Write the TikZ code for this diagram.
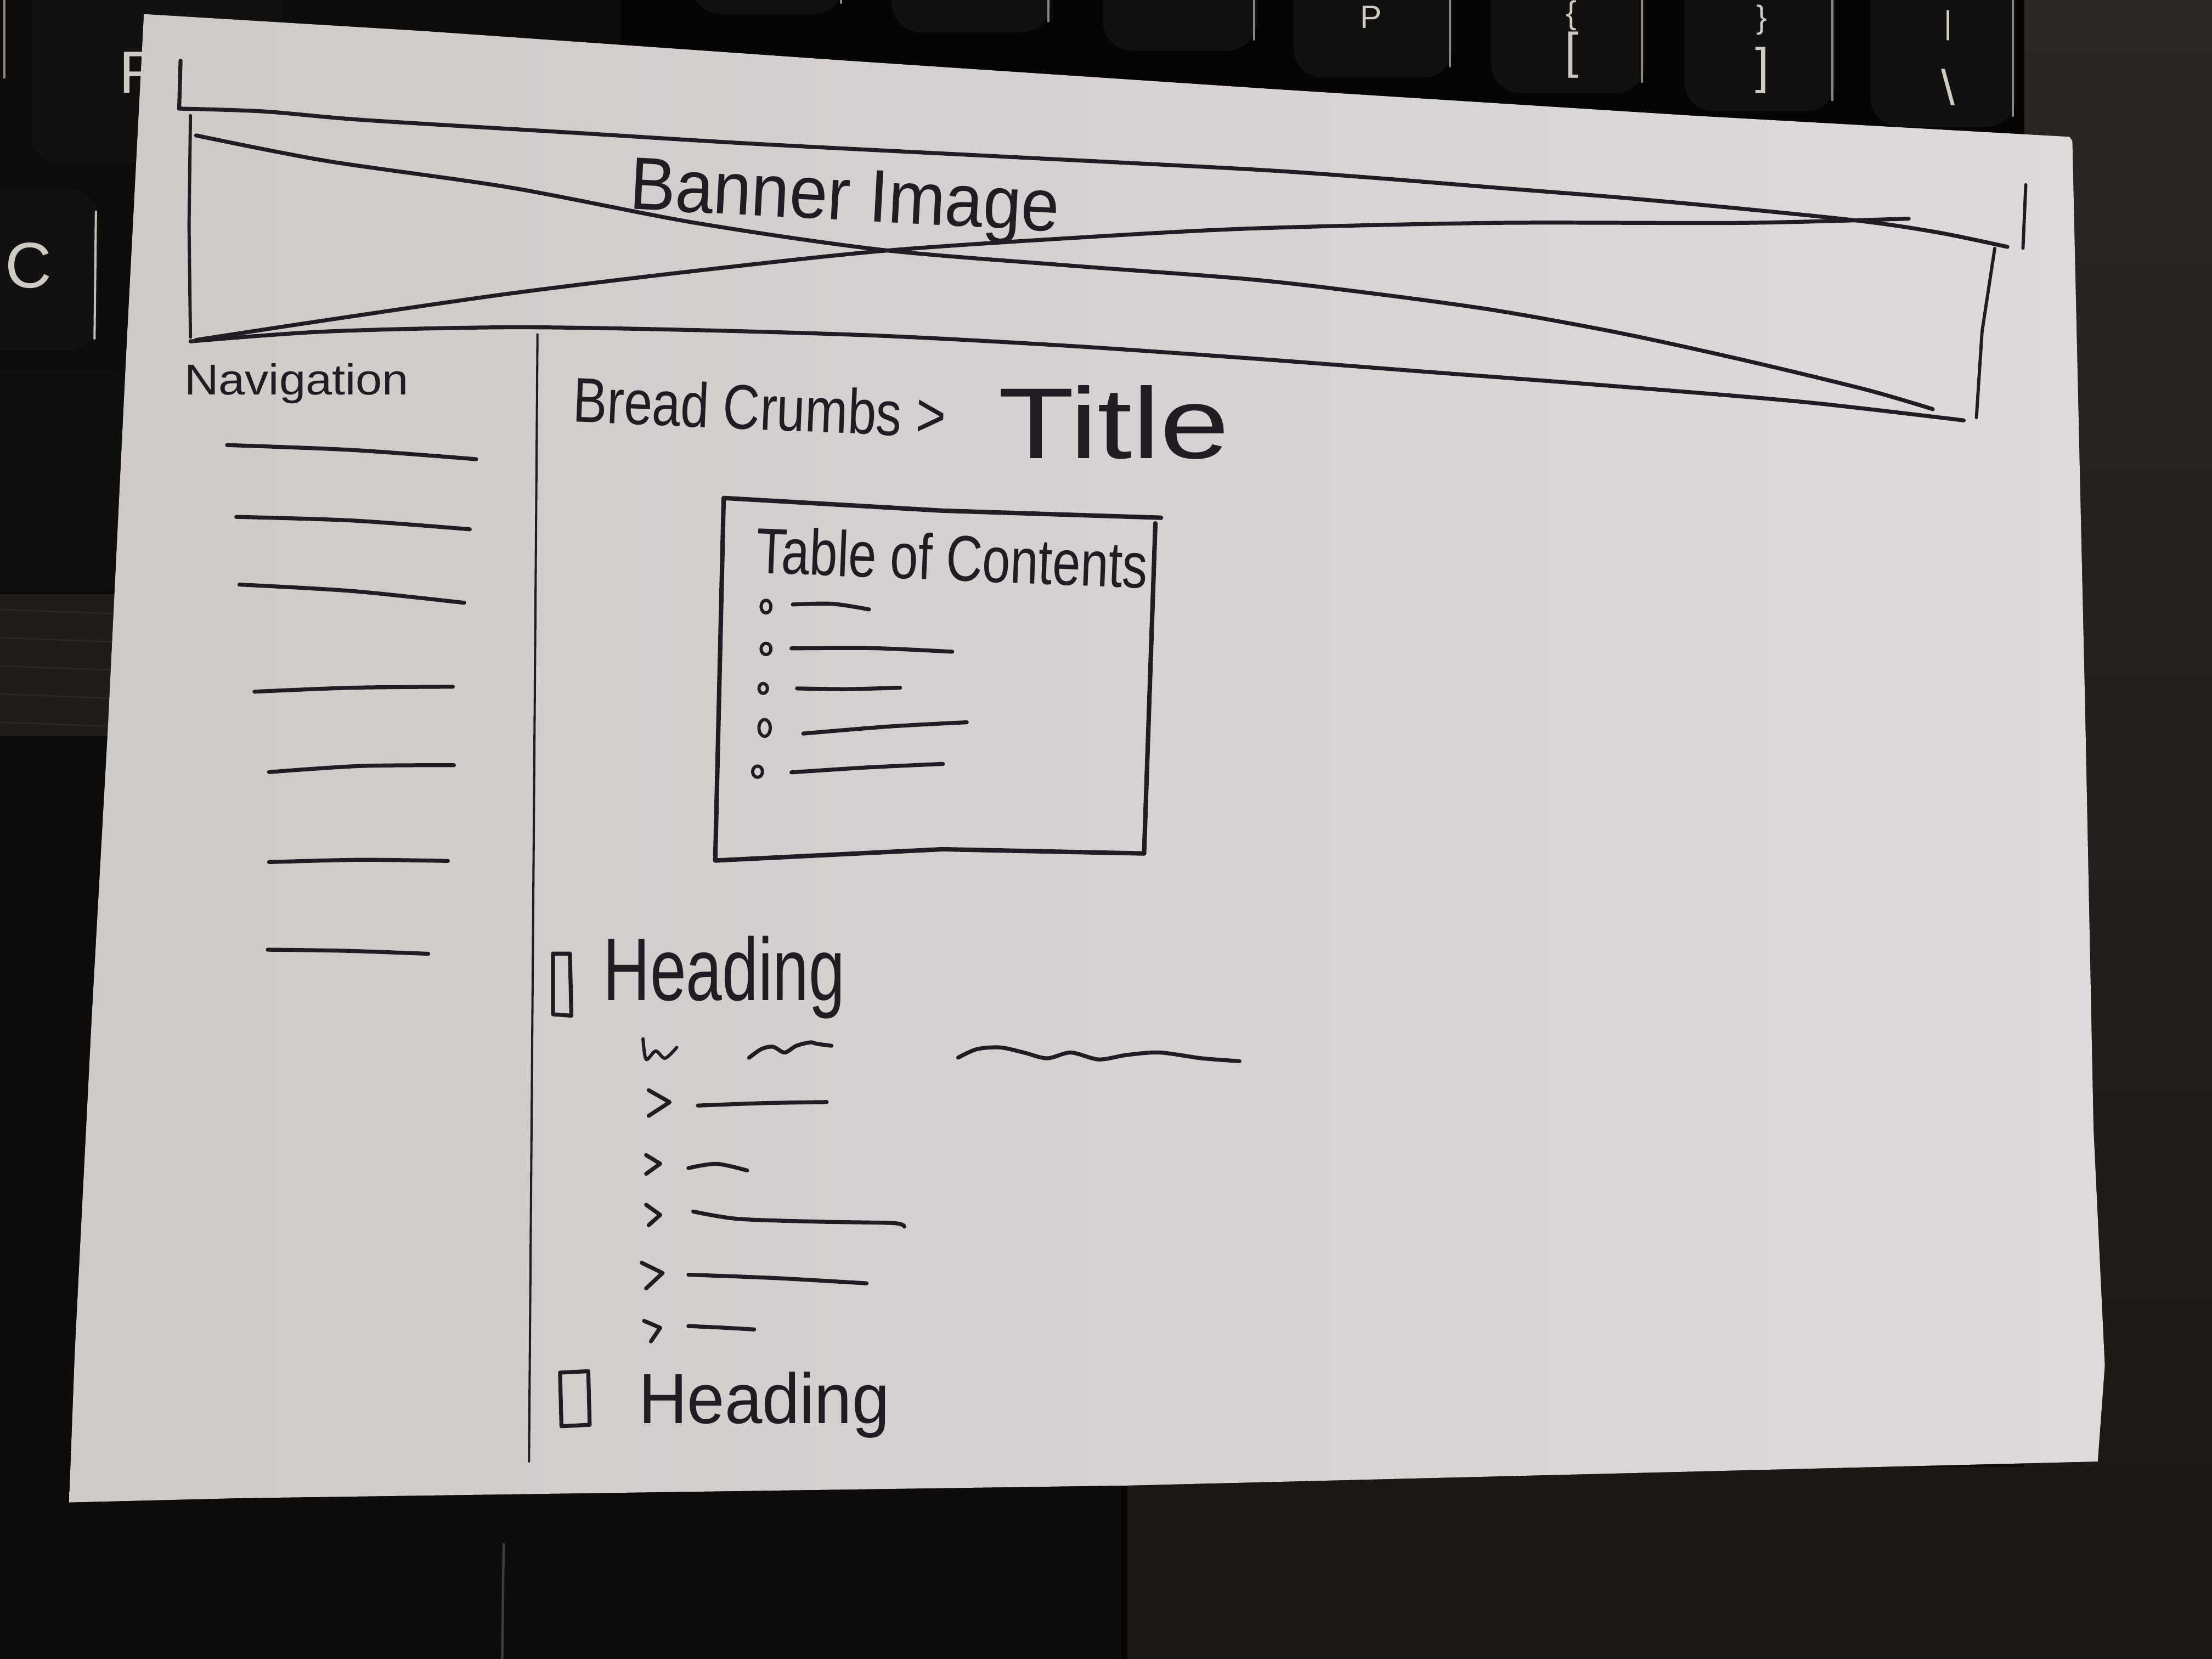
\documentclass[tikz,border=0pt]{standalone}
\usepackage{fontspec}
\usepackage{graphicx}
\newfontfamily\handfont{Liberation Sans}
\newfontfamily\keyfont{Liberation Sans}

\definecolor{inkc}{HTML}{221B24}
\definecolor{paperL}{HTML}{CFC9C7}
\definecolor{paperR}{HTML}{DEDADB}
\definecolor{deskc}{HTML}{0D0C0B}
\definecolor{keyc}{HTML}{121110}
\definecolor{gapc}{HTML}{050505}
\definecolor{glyphc}{HTML}{CFCBC4}
\definecolor{edgec}{HTML}{8C8780}
\definecolor{carbonc}{HTML}{1F1C19}
\definecolor{padc}{HTML}{1B1713}
\definecolor{rimc}{HTML}{2B2824}

\tikzset{
  ink/.style={draw=inkc, line width=0.8pt, line cap=round, line join=round},
  fineink/.style={draw=inkc, line width=0.65pt, line cap=round, line join=round},
  hairink/.style={draw=inkc, line width=0.45pt, line cap=round},
  hand/.style={inner sep=0pt, anchor=base west, text=inkc},
  keycap/.style={fill=keyc, rounded corners=6pt},
  keyedge/.style={draw=edgec, line width=0.45pt, line cap=round},
  keyglyph/.style={inner sep=0pt, text=glyphc, font=\keyfont\fontsize{10}{10}\selectfont},
  smallglyph/.style={keyglyph, font=\keyfont\fontsize{6.5}{7}\selectfont},
}

\begin{document}
\begin{tikzpicture}[x=0.01cm, y=-0.01cm]
\useasboundingbox (0,0) rectangle (1568,1176);

% ---------- keyboard and desk behind the sheet ----------
\fill[deskc] (0,0) rectangle (1568,1176);
\shade[top color=rimc, bottom color=padc] (1435,0) rectangle (1568,1176);
\fill[padc] (797,1040) rectangle (1568,1176);
\fill[gapc] (795,1040) rectangle (799,1176);
\draw[draw=black!55!edgec, line width=0.5pt] (357,1094) -- (356,1176);

% top key row
\fill[gapc] (440,-5) rectangle (1435,110);
\foreach \l/\r/\b in {490/598/10, 632/745/23, 782/891/36, 917/1030/55, 1057/1166/66, 1194/1301/79, 1326/1429/90}{
  \fill[keycap] (\l,-30) rectangle (\r,\b);
  \draw[keyedge] (\r-2,-5) -- (\r-2,\b-8);
}
\node[smallglyph, anchor=center] (kP) at (972,12) {P};
\node[smallglyph, anchor=center] (kBraceL) at (1114,11) {\{};
\node[keyglyph, anchor=center] (kBrackL) at (1114,39) {[};
\node[smallglyph, anchor=center] (kBraceR) at (1249,14) {\}};
\node[keyglyph, anchor=center] (kBrackR) at (1249,50) {]};
\node[smallglyph, anchor=center] (kBar) at (1381,18) {|};
\node[keyglyph, anchor=center] (kBslash) at (1381,62) {\textbackslash};

% left key column
\draw[keyedge] (3,-5) -- (3,55);
\fill[keycap] (22,-20) rectangle (200,116);
\node[keyglyph, anchor=base west, font=\keyfont\fontsize{12}{12}\selectfont] (kF) at (84,66) {F};
\fill[keycap] (-20,134) rectangle (70,248);
\draw[keyedge, draw=glyphc!80!edgec] (68,150) -- (67,240);
\node[keyglyph, anchor=base west, font=\keyfont\fontsize{13}{13}\selectfont] (kC) at (3,204) {C};
\fill[keyc!85!black, rounded corners=5pt] (-20,262) rectangle (92,418);
\fill[carbonc] (-20,421) rectangle (82,522);
\foreach \yy in {432,452,472,492,512}{
  \draw[carbonc!85!white, line width=0.3pt, opacity=0.35] (0,\yy) -- (80,\yy+3);
}

% ---------- the sheet of paper ----------
\shade[left color=paperL, right color=paperR]
  (102,10) -- (300,22) -- (600,43) -- (900,63) -- (1200,82) -- (1467,97)
  -- (1469,100) -- (1478,500) -- (1484,800) -- (1492,968) -- (1487,1036)
  -- (800,1053) -- (169,1062) -- (49,1065) -- (53,959) -- (65,722)
  -- (76.5,516) -- (89.5,250) -- cycle;

% ---------- banner image placeholder ----------
\draw[ink] (128,43) -- (127,77);
\draw[ink] plot[smooth] coordinates {(127,77) (187,79) (257,85) (405,94) (536,102) (711,111) (886,120) (973,126) (1060,133) (1148,140) (1235,148) (1322,157) (1375,165) (1423,175)};
\draw[fineink] (1436,131) -- (1434,176);
\draw[fineink] (135,82) -- (134,160) -- (135,239);
\draw[ink] plot[smooth] coordinates {(139,96) (231,114) (362,133) (493,158) (624,177) (755,188) (886,198) (973,208) (1060,220) (1148,236) (1235,255) (1322,276) (1370,290)};
\draw[ink] plot[smooth] coordinates {(139,241) (231,227) (362,208) (493,192) (624,178) (755,169) (886,162) (1060,158) (1235,158) (1353,155)};
\draw[ink] plot[smooth] coordinates {(135,242) (231,235) (362,232) (493,234) (624,238) (755,245) (886,254) (1017,264) (1148,274) (1279,285) (1392,298)};
\draw[fineink] (1414,176) -- (1405,235) -- (1401,296);
\node[hand, rotate=-3, font=\handfont\fontsize{15}{18}\selectfont] (banner) at (445,148) {\scalebox{0.92}[1]{Banner Image}};

% ---------- navigation column ----------
\draw[hairink] (381,237) -- (378,640) -- (375,1036);
\node[hand, font=\handfont\fontsize{8.7}{10}\selectfont] (nav) at (130,280) {\scalebox{1.1}[1]{Navigation}};
\draw[ink] plot[smooth] coordinates {(161,315.5) (250,319) (337.5,325.5)};
\draw[ink] plot[smooth] coordinates {(167.5,366.4) (250,369) (333,375.2)};
\draw[ink] plot[smooth] coordinates {(169.7,414.4) (250,419) (329,427.3)};
\draw[ink] plot[smooth] coordinates {(180.4,490.3) (250,487.5) (321,486.8)};
\draw[ink] plot[smooth] coordinates {(190.7,547.3) (255,543) (321.8,542.4)};
\draw[ink] plot[smooth] coordinates {(190.7,611.1) (255,609.5) (317.5,610.3)};
\draw[ink] plot[smooth] coordinates {(189.8,673.2) (245,674) (303.6,676.1)};

% ---------- breadcrumbs and title ----------
\node[hand, rotate=-2.4, font=\handfont\fontsize{12.7}{15}\selectfont] (crumbs) at (405,299) {\scalebox{0.81}[1]{Bread Crumbs >}};
\node[hand, font=\handfont\fontsize{20.3}{24}\selectfont] (title) at (707,325) {\scalebox{1.24}[1]{Title}};

% ---------- table of contents box ----------
\draw[ink, line width=0.9pt] (823,367) -- (668,362) -- (513,353) -- (507,610) -- (668,602) -- (811,605) -- (819,371);
\node[hand, rotate=-2.3, font=\handfont\fontsize{13}{15}\selectfont] (toc) at (535,406) {\scalebox{0.78}[1]{Table of Contents}};
\draw[fineink] (543,430) ellipse [x radius=3.5, y radius=4.5];
\draw[fineink] (543,460) ellipse [x radius=3.5, y radius=4];
\draw[fineink] (541,488) ellipse [x radius=3, y radius=3.5];
\draw[fineink] (542,516) ellipse [x radius=4, y radius=6];
\draw[fineink] (537,547) ellipse [x radius=3.5, y radius=4];
\draw[ink] plot[smooth] coordinates {(562,428.5) (590,428) (616,432)};
\draw[ink] plot[smooth] coordinates {(561,459.6) (620,459.5) (675,462)};
\draw[ink] plot[smooth] coordinates {(565,488) (600,488.5) (638,487.5)};
\draw[ink] plot[smooth] coordinates {(569.4,520) (630,515) (685.3,512)};
\draw[ink] plot[smooth] coordinates {(561,547.5) (615,544) (668.4,541.5)};

% ---------- first heading with its list ----------
\draw[ink] (392,676) -- (404,676) -- (405,720) -- (392,719) -- cycle;
\node[hand, font=\handfont\fontsize{17.9}{21}\selectfont] (head1) at (427,709) {\scalebox{0.73}[1]{Heading}};
\draw[fineink] plot[smooth] coordinates {(455.8,736.4) (458,751) (464.8,745) (471.4,750.2) (479.7,742.5)};
\draw[ink] plot[smooth] coordinates {(531,749.8) (539.6,743.7) (547.9,742) (556.2,746.1) (564.5,741.3) (574.5,738.9) (579.4,740) (589.4,741.3)};
\draw[ink] plot[smooth] coordinates {(679.2,749.7) (692.5,743.7) (709,742.5) (725.7,746.1) (742.3,750.2) (759,746.1) (778.9,751) (798.8,747.8) (822.1,746.1) (852,750.2) (878.6,752.2)};

\draw[ink] (459.8,772.8) -- (474.7,781.3) -- (459.8,791);
\draw[ink] plot[smooth] coordinates {(494.7,783.7) (540,782) (586,781.2)};
\draw[ink] (458,818.8) -- (468,824.9) -- (458,832.1);
\draw[ink] plot[smooth] coordinates {(488,828) (508,825) (529.6,829.7)};
\draw[ink] (458,854) -- (468,861.2) -- (459.8,868.5);
\draw[ink] plot[smooth] coordinates {(491.4,858.8) (523,864) (580,866) (633,867) (641,869.5)};
\draw[ink] (454.8,895.1) -- (469.7,902.4) -- (458,913.3);
\draw[ink] plot[smooth] coordinates {(488,903.6) (550,906) (614.3,909.7)};
\draw[ink] (456.5,936.3) -- (468,941.2) -- (461.4,950.9);
\draw[ink] plot[smooth] coordinates {(488,940) (510,941) (534.6,942.4)};

% ---------- second heading ----------
\draw[ink] (397,973) -- (417,972) -- (418,1010) -- (398,1011) -- cycle;
\node[hand, font=\handfont\fontsize{14.3}{17}\selectfont] (head2) at (452,1009) {\scalebox{0.95}[1]{Heading}};
\end{tikzpicture}
\end{document}
